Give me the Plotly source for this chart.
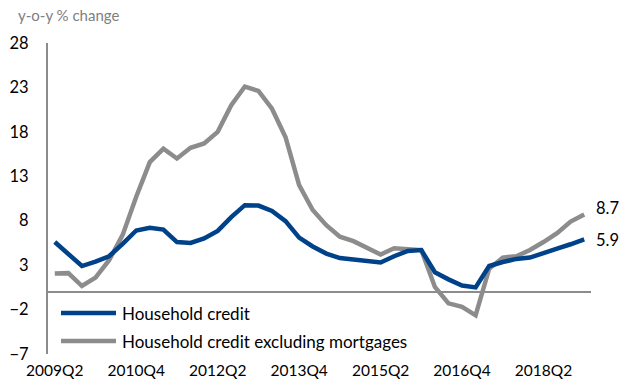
import plotly.graph_objects as go

# Quarterly categories 2009Q2 .. 2019Q1
quarters = []
y, q = 2009, 2
for _ in range(40):
    quarters.append(f"{y}Q{q}")
    q += 1
    if q > 4:
        q = 1
        y += 1

household_credit = [5.6, 4.2, 2.9, 3.4, 4.0, 5.4, 6.9, 7.2, 7.0, 5.6,
                    5.5, 6.0, 6.85, 8.4, 9.75, 9.7, 9.1, 7.95, 6.1, 5.1,
                    4.3, 3.8, 3.6, 3.45, 3.3, 4.0, 4.6, 4.7, 2.2, 1.4,
                    0.7, 0.5, 2.9, 3.35, 3.7, 3.85, 4.3, 4.85, 5.35, 5.9]
hc_ex_mortgages = [2.05, 2.1, 0.65, 1.6, 3.55, 6.4, 10.7, 14.6, 16.1, 15.0,
                   16.2, 16.7, 18.0, 21.0, 23.1, 22.6, 20.6, 17.4, 12.0, 9.2,
                   7.5, 6.2, 5.7, 5.0, 4.2, 4.9, 4.75, 4.7, 0.55, -1.3,
                   -1.7, -2.65, 2.6, 3.85, 4.0, 4.7, 5.6, 6.6, 7.9, 8.7]
series_names = ["Household credit", "Household credit excluding mortgages"]
y_ticks = [-7, -2, 3, 8, 13, 18, 23, 28]
x_tick_labels = ["2009Q2", "2010Q4", "2012Q2", "2013Q4", "2015Q2", "2016Q4", "2018Q2"]

BLUE = "#00428A"
GRAY = "#8C8C8C"
FONT = "Lato"

xs = list(range(len(quarters)))
fig = go.Figure()
fig.add_trace(go.Scatter(x=xs, y=hc_ex_mortgages, mode="lines", name=series_names[1],
                         line=dict(color=GRAY, width=4.5), showlegend=False))
fig.add_trace(go.Scatter(x=xs, y=household_credit, mode="lines", name=series_names[0],
                         line=dict(color=BLUE, width=4.5), showlegend=False))

tickvals = [quarters.index(t) for t in x_tick_labels]

fig.update_layout(
    width=629, height=389,
    margin=dict(l=48, r=38, t=43, b=35),
    paper_bgcolor="white", plot_bgcolor="white",
    font=dict(family=FONT, size=15, color="black"),
    xaxis=dict(range=[-0.5, 39.5], tickvals=tickvals, ticktext=x_tick_labels,
               showgrid=False, zeroline=False, showline=False, ticks="",
               ticklabelstandoff=5, tickfont=dict(size=15.5), automargin=False),
    yaxis=dict(range=[-7, 28], tickvals=y_ticks, showgrid=False,
               zeroline=True, zerolinecolor="#8C8C8C", zerolinewidth=2,
               showline=True, linecolor="#8C8C8C", linewidth=2, ticks="",
               ticklabelstandoff=14, tickfont=dict(size=16.5), automargin=False),
    showlegend=False,
)

def px_x(p):
    return (p - 48) / 543

def px_y(p):
    return (354 - p) / 311

# manual legend
for name, col, py in [(series_names[0], BLUE, 313), (series_names[1], GRAY, 341)]:
    fig.add_shape(type="line", xref="paper", yref="paper",
                  x0=px_x(61), x1=px_x(116), y0=px_y(py), y1=px_y(py),
                  line=dict(color=col, width=4.5))
    fig.add_annotation(x=px_x(120), y=px_y(py), xref="paper", yref="paper",
                       text=name, showarrow=False, xanchor="left", yanchor="middle",
                       font=dict(size=17, color="black"))

# end labels
fig.add_annotation(x=xs[-1], y=hc_ex_mortgages[-1], text=f"{hc_ex_mortgages[-1]:.1f}",
                   showarrow=False, xanchor="left", yanchor="middle", xshift=10, yshift=6,
                   font=dict(size=16.5, color="black"))
fig.add_annotation(x=xs[-1], y=household_credit[-1], text=f"{household_credit[-1]:.1f}",
                   showarrow=False, xanchor="left", yanchor="middle", xshift=10, yshift=-1,
                   font=dict(size=16.5, color="black"))

# axis title
fig.add_annotation(x=px_x(16), y=px_y(15), xref="paper", yref="paper",
                   text="y-o-y % change", showarrow=False, xanchor="left", yanchor="middle",
                   font=dict(size=15, color="#808080"))

fig.write_html("out.html")
